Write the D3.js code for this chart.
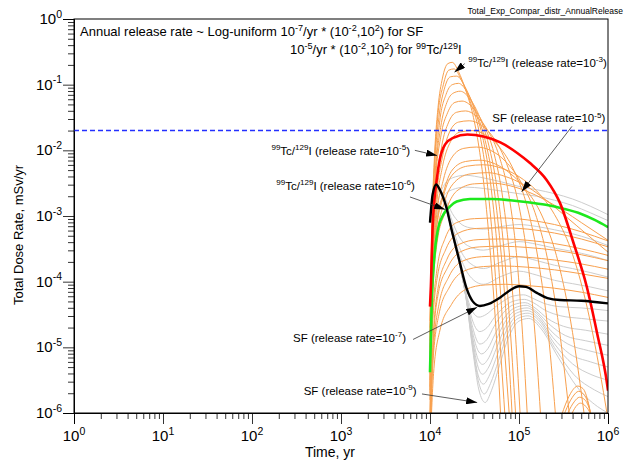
<!DOCTYPE html>
<html>
<head>
<meta charset="utf-8">
<script src="https://cdn.jsdelivr.net/npm/d3@7"></script>
<style>
body { margin: 0; background: #fff; }
text { font-family: Arial, "Liberation Sans", sans-serif; fill: #000; }
</style>
</head>
<body>
<svg id="chart" width="628" height="461"></svg>
<script>
// points are [log10(time, yr), log10(dose, mSv/yr)]

// highlighted realisations
var tcI_1e5 = [[4.0,-4.38],[4.01,-4.07],[4.03,-3.16],[4.08,-2.40],[4.11,-2.14],[4.17,-1.91],[4.26,-1.81],[4.42,-1.76],[4.6,-1.79],[4.79,-1.88],[4.98,-2.04],[5.12,-2.19],[5.31,-2.45],[5.46,-2.80],[5.61,-3.40],[5.76,-4.07],[5.88,-4.80],[5.99,-5.56],[6.0,-5.66]];
var sf_1e5 = [[4.0,-5.38],[4.02,-4.3],[4.05,-3.6],[4.09,-3.2],[4.15,-2.98],[4.22,-2.86],[4.3,-2.78],[4.45,-2.74],[4.7,-2.74],[4.9,-2.76],[5.1,-2.79],[5.3,-2.83],[5.5,-2.89],[5.7,-2.97],[5.85,-3.06],[6.0,-3.17]];
var sf_1e7 = [[4.0,-3.1],[4.03,-2.67],[4.07,-2.52],[4.11,-2.6],[4.18,-2.85],[4.25,-3.25],[4.33,-3.68],[4.41,-4.1],[4.48,-4.3],[4.56,-4.37],[4.66,-4.34],[4.78,-4.25],[4.9,-4.13],[5.0,-4.07],[5.08,-4.08],[5.2,-4.17],[5.32,-4.25],[5.46,-4.28],[5.7,-4.29],[6.0,-4.33]];

// SF realisations (grey)
var sfEarly = [[4.0,-3.1],[4.03,-2.67],[4.07,-2.52],[4.11,-2.6],[4.18,-2.86],[4.25,-3.27],[4.33,-3.72]];
var sfCurves = [
  [[4.0,-5.0],[4.03,-3.6],[4.08,-2.85],[4.15,-2.55],[4.25,-2.42],[4.4,-2.38],[4.6,-2.42],[4.8,-2.48],[5.0,-2.55],[5.2,-2.6],[5.4,-2.66],[5.6,-2.74],[5.8,-2.85],[6.0,-2.98]],
  [[4.0,-5.2],[4.03,-3.8],[4.08,-3.0],[4.15,-2.7],[4.25,-2.6],[4.4,-2.56],[4.6,-2.58],[4.8,-2.62],[5.0,-2.66],[5.2,-2.7],[5.4,-2.76],[5.6,-2.84],[5.8,-2.95],[6.0,-3.07]],
  [[4.0,-3.1],[4.03,-2.67],[4.07,-2.52],[4.11,-2.58],[4.18,-2.76],[4.25,-2.96],[4.33,-3.1],[4.45,-3.18],[4.6,-3.2],[4.8,-3.16],[5.0,-3.13],[5.2,-3.16],[5.4,-3.21],[5.6,-3.27],[5.8,-3.35],[6.0,-3.45]],
  [[4.0,-3.1],[4.03,-2.67],[4.07,-2.52],[4.11,-2.59],[4.18,-2.8],[4.25,-3.08],[4.33,-3.32],[4.45,-3.47],[4.6,-3.52],[4.8,-3.45],[5.0,-3.39],[5.2,-3.43],[5.4,-3.49],[5.6,-3.54],[5.8,-3.6],[6.0,-3.68]],
  [[4.0,-3.1],[4.03,-2.67],[4.07,-2.52],[4.11,-2.6],[4.18,-2.83],[4.25,-3.15],[4.33,-3.48],[4.45,-3.72],[4.6,-3.8],[4.8,-3.7],[5.0,-3.62],[5.2,-3.68],[5.4,-3.75],[5.6,-3.8],[5.8,-3.86],[6.0,-3.93]],
  [[4.0,-3.1],[4.03,-2.67],[4.07,-2.52],[4.11,-2.6],[4.18,-2.85],[4.25,-3.2],[4.33,-3.58],[4.45,-3.92],[4.6,-4.04],[4.8,-3.92],[5.0,-3.84],[5.2,-3.9],[5.4,-3.98],[5.6,-4.03],[5.8,-4.08],[6.0,-4.14]],
  sfEarly.concat([[4.41,-4.2],[4.48,-4.46],[4.55,-4.54],[4.63,-4.5],[4.72,-4.4],[4.82,-4.3],[4.93,-4.22],[5.05,-4.2],[5.15,-4.25],[5.28,-4.33],[5.45,-4.38],[5.7,-4.4],[6.0,-4.44]]),
  sfEarly.concat([[4.41,-4.22],[4.48,-4.6],[4.56,-4.76],[4.64,-4.7],[4.72,-4.55],[4.82,-4.4],[4.93,-4.3],[5.06,-4.27],[5.16,-4.32],[5.3,-4.44],[5.47,-4.52],[5.7,-4.56],[6.0,-4.6]]),
  sfEarly.concat([[4.41,-4.24],[4.48,-4.7],[4.56,-4.95],[4.64,-4.88],[4.72,-4.68],[4.82,-4.48],[4.94,-4.35],[5.07,-4.32],[5.18,-4.4],[5.32,-4.56],[5.5,-4.68],[5.75,-4.74],[6.0,-4.8]]),
  sfEarly.concat([[4.41,-4.25],[4.48,-4.78],[4.54,-5.05],[4.58,-5.1],[4.65,-5.02],[4.73,-4.8],[4.83,-4.56],[4.95,-4.4],[5.08,-4.36],[5.2,-4.46],[5.35,-4.66],[5.52,-4.82],[5.75,-4.9],[6.0,-4.97]]),
  sfEarly.concat([[4.41,-4.26],[4.48,-4.85],[4.54,-5.18],[4.59,-5.26],[4.66,-5.16],[4.74,-4.9],[4.84,-4.62],[4.96,-4.44],[5.09,-4.4],[5.21,-4.5],[5.36,-4.75],[5.55,-4.95],[5.78,-5.05],[6.0,-5.12]]),
  sfEarly.concat([[4.41,-4.27],[4.48,-4.9],[4.54,-5.3],[4.59,-5.41],[4.66,-5.3],[4.75,-5.0],[4.85,-4.68],[4.97,-4.48],[5.09,-4.44],[5.22,-4.55],[5.38,-4.85],[5.57,-5.1],[5.8,-5.22],[6.0,-5.3]]),
  sfEarly.concat([[4.41,-4.28],[4.48,-4.95],[4.54,-5.42],[4.6,-5.56],[4.67,-5.42],[4.76,-5.1],[4.86,-4.74],[4.98,-4.52],[5.1,-4.48],[5.23,-4.6],[5.4,-4.95],[5.6,-5.25],[5.82,-5.42],[6.0,-5.5]]),
  sfEarly.concat([[4.41,-4.29],[4.48,-5.0],[4.55,-5.55],[4.61,-5.71],[4.68,-5.55],[4.77,-5.2],[4.87,-4.8],[4.99,-4.56],[5.1,-4.52],[5.24,-4.66],[5.42,-5.05],[5.62,-5.42],[5.85,-5.65],[6.0,-5.75]]),
  sfEarly.concat([[4.41,-4.3],[4.48,-5.04],[4.55,-5.65],[4.62,-5.84],[4.69,-5.66],[4.78,-5.28],[4.88,-4.86],[5.0,-4.6],[5.11,-4.56],[5.25,-4.72],[5.44,-5.15],[5.65,-5.6],[5.88,-5.9],[6.0,-6.0]])
];

// 99Tc/129I realisations (orange)
var tcCurves = [
  [[4.0,-4.6],[4.02,-3.2],[4.05,-2.1],[4.09,-1.35],[4.14,-0.9],[4.2,-0.68],[4.25,-0.66],[4.32,-0.8],[4.4,-1.08],[4.48,-1.45],[4.55,-1.95],[4.62,-2.7],[4.68,-3.6],[4.74,-4.7],[4.8,-6.2]],
  [[4.0,-4.7],[4.02,-3.3],[4.05,-2.2],[4.09,-1.45],[4.15,-1.0],[4.21,-0.78],[4.27,-0.76],[4.35,-0.92],[4.45,-1.25],[4.55,-1.7],[4.63,-2.35],[4.7,-3.3],[4.77,-4.6],[4.85,-6.2]],
  [[4.0,-4.8],[4.02,-3.4],[4.05,-2.3],[4.1,-1.5],[4.16,-1.07],[4.23,-0.88],[4.3,-0.87],[4.4,-1.05],[4.5,-1.38],[4.6,-1.85],[4.68,-2.5],[4.75,-3.4],[4.82,-4.7],[4.9,-6.2]],
  [[4.0,-4.9],[4.02,-3.5],[4.06,-2.3],[4.11,-1.55],[4.18,-1.15],[4.25,-1.0],[4.32,-0.98],[4.42,-1.12],[4.52,-1.42],[4.62,-1.85],[4.7,-2.4],[4.78,-3.3],[4.86,-4.6],[4.93,-6.2]],
  [[4.0,-5.0],[4.02,-3.6],[4.06,-2.4],[4.12,-1.65],[4.19,-1.27],[4.26,-1.13],[4.34,-1.1],[4.45,-1.22],[4.56,-1.5],[4.66,-1.92],[4.75,-2.55],[4.83,-3.5],[4.9,-4.7],[4.97,-6.2]],
  [[4.0,-5.1],[4.02,-3.7],[4.06,-2.5],[4.12,-1.8],[4.2,-1.42],[4.28,-1.27],[4.36,-1.25],[4.48,-1.35],[4.6,-1.6],[4.72,-2.05],[4.82,-2.75],[4.9,-3.7],[4.96,-4.8],[5.02,-6.2]],
  [[4.0,-5.2],[4.02,-3.8],[4.07,-2.6],[4.13,-1.95],[4.21,-1.57],[4.3,-1.42],[4.4,-1.4],[4.52,-1.48],[4.65,-1.7],[4.78,-2.1],[4.9,-2.8],[4.98,-3.7],[5.04,-4.8],[5.1,-6.2]],
  [[4.0,-5.3],[4.02,-3.9],[4.07,-2.75],[4.14,-2.1],[4.22,-1.72],[4.32,-1.57],[4.44,-1.55],[4.58,-1.62],[4.72,-1.82],[4.86,-2.2],[5.0,-2.85],[5.1,-3.7],[5.18,-4.8],[5.25,-6.2]],
  [[4.0,-5.4],[4.02,-4.0],[4.07,-2.9],[4.14,-2.25],[4.23,-1.87],[4.34,-1.72],[4.48,-1.7],[4.62,-1.76],[4.78,-1.95],[4.94,-2.3],[5.1,-2.9],[5.22,-3.7],[5.33,-4.8],[5.42,-6.2]],
  [[4.0,-5.5],[4.02,-4.1],[4.07,-3.05],[4.15,-2.45],[4.25,-2.1],[4.38,-1.97],[4.52,-1.95],[4.68,-2.0],[4.85,-2.17],[5.02,-2.48],[5.18,-2.95],[5.32,-3.65],[5.45,-4.7],[5.58,-6.2]],
  [[4.0,-5.6],[4.02,-4.3],[4.07,-3.2],[4.15,-2.65],[4.25,-2.3],[4.4,-2.17],[4.55,-2.15],[4.72,-2.2],[4.9,-2.35],[5.08,-2.6],[5.26,-3.0],[5.42,-3.6],[5.58,-4.6],[5.75,-6.2]],
  [[4.0,-5.65],[4.02,-4.35],[4.07,-3.25],[4.15,-2.7],[4.26,-2.36],[4.42,-2.24],[4.6,-2.22],[4.8,-2.27],[5.0,-2.4],[5.2,-2.62],[5.4,-2.98],[5.58,-3.5],[5.75,-4.3],[5.9,-5.3],[6.0,-6.1]],
  [[4.0,-5.7],[4.02,-4.4],[4.08,-3.3],[4.16,-2.8],[4.28,-2.48],[4.45,-2.36],[4.65,-2.34],[4.85,-2.4],[5.05,-2.52],[5.25,-2.7],[5.45,-2.92],[5.65,-3.15],[5.85,-3.38],[6.0,-3.55]],
  [[4.0,-5.8],[4.02,-4.5],[4.08,-3.4],[4.17,-2.95],[4.3,-2.62],[4.5,-2.51],[4.7,-2.5],[4.9,-2.54],[5.1,-2.63],[5.3,-2.76],[5.5,-2.92],[5.7,-3.1],[5.9,-3.28],[6.0,-3.37]],
  [[4.0,-6.0],[4.02,-4.8],[4.08,-3.8],[4.17,-3.34],[4.3,-3.1],[4.5,-3.04],[4.8,-3.03],[5.1,-3.06],[5.4,-3.13],[5.7,-3.24],[6.0,-3.38]],
  [[4.0,-6.1],[4.02,-4.9],[4.08,-3.95],[4.18,-3.5],[4.32,-3.26],[4.52,-3.19],[4.8,-3.18],[5.1,-3.2],[5.4,-3.26],[5.7,-3.35],[6.0,-3.47]],
  [[4.0,-6.2],[4.03,-5.0],[4.09,-4.1],[4.19,-3.66],[4.33,-3.43],[4.54,-3.36],[4.8,-3.35],[5.1,-3.37],[5.4,-3.42],[5.7,-3.5],[6.0,-3.6]],
  [[4.0,-6.3],[4.03,-5.1],[4.09,-4.2],[4.2,-3.78],[4.35,-3.54],[4.56,-3.47],[4.8,-3.46],[5.1,-3.48],[5.4,-3.52],[5.7,-3.59],[6.0,-3.68]],
  [[4.0,-6.4],[4.03,-5.2],[4.1,-4.35],[4.21,-3.93],[4.36,-3.69],[4.58,-3.62],[4.8,-3.61],[5.1,-3.63],[5.4,-3.67],[5.7,-3.73],[6.0,-3.81]],
  [[4.0,-6.5],[4.03,-5.3],[4.1,-4.5],[4.22,-4.08],[4.38,-3.84],[4.6,-3.77],[4.8,-3.76],[5.1,-3.78],[5.4,-3.82],[5.7,-3.88],[6.0,-3.95]],
  [[4.0,-6.6],[4.04,-5.4],[4.11,-4.75],[4.24,-4.35],[4.4,-4.12],[4.62,-4.05],[4.85,-4.04],[5.1,-4.06],[5.4,-4.1],[5.7,-4.16],[6.0,-4.24]],
  // small late humps near the bottom
  [[5.42,-6.3],[5.5,-5.95],[5.58,-5.7],[5.66,-5.59],[5.72,-5.63],[5.78,-5.85],[5.84,-6.3]],
  [[5.44,-6.3],[5.52,-5.98],[5.6,-5.76],[5.67,-5.67],[5.73,-5.72],[5.79,-5.92],[5.84,-6.3]],
  [[5.47,-6.3],[5.55,-6.0],[5.62,-5.83],[5.68,-5.76],[5.74,-5.8],[5.8,-5.98],[5.85,-6.3]],
  [[5.5,-6.3],[5.58,-6.05],[5.64,-5.9],[5.69,-5.85],[5.75,-5.9],[5.81,-6.05],[5.85,-6.3]]
];

var doseLimit = 0.02;
var xExps = [0, 1, 2, 3, 4, 5, 6];
var yExps = [-6, -5, -4, -3, -2, -1, 0];

// annotation texts, baseline pos / arrow tail / arrow tip in [log t, log D]
var notes = [
  { txt: "^{99}Tc/^{129}I (release rate=10^{-3})", at: [4.43, -0.73], anchor: "start", from: [4.39, -0.68], to: [4.275, -0.81] },
  { txt: "SF (release rate=10^{-5})", at: [4.70, -1.575], anchor: "start", from: [5.595, -1.635], to: [5.03, -2.63] },
  { txt: "^{99}Tc/^{129}I (release rate=10^{-5})", at: [3.775, -2.07], anchor: "end", from: [3.83, -2.0], to: [4.08, -2.08] },
  { txt: "^{99}Tc/^{129}I (release rate=10^{-6})", at: [3.83, -2.6], anchor: "end", from: [3.775, -2.71], to: [4.17, -2.90] },
  { txt: "SF (release rate=10^{-7})", at: [3.73, -4.92], anchor: "end", from: [3.81, -4.88], to: [4.53, -4.39] },
  { txt: "SF (release rate=10^{-9})", at: [3.85, -5.73], anchor: "end", from: [3.91, -5.71], to: [4.53, -5.84] }
];

var L = 74, R = 608, T = 19, B = 413;
var svg = d3.select("#chart");

var x = d3.scaleLog().domain([1, 1e6]).range([L, R]);
var y = d3.scaleLog().domain([1e-6, 1]).range([B, T]);
var px = function(p) { return x(Math.pow(10, p[0])); };
var py = function(p) { return y(Math.pow(10, p[1])); };

// text with ^{..} superscripts
function rich(sel, str, fs) {
  var parts = str.split(/(\^\{[^}]*\})/).filter(function(s) { return s.length; });
  var up = false;
  parts.forEach(function(p) {
    if (p.indexOf("^{") === 0) {
      sel.append("tspan").attr("font-size", fs * 0.7).attr("dy", up ? 0 : -fs * 0.42).text(p.slice(2, -1));
      up = true;
    } else {
      sel.append("tspan").attr("font-size", fs).attr("dy", up ? fs * 0.42 : 0).text(p);
      up = false;
    }
  });
}

svg.append("defs").append("clipPath").attr("id", "clip")
  .append("rect").attr("x", L).attr("y", T).attr("width", R - L).attr("height", B - T);
var mk = svg.select("defs").append("marker").attr("id", "arr")
  .attr("markerUnits", "userSpaceOnUse").attr("markerWidth", 11).attr("markerHeight", 7)
  .attr("refX", 11).attr("refY", 3.5).attr("orient", "auto");
mk.append("path").attr("d", "M0,0 L11,3.5 L0,7 Z").attr("fill", "#000");

// axes
var majX = xExps.map(function(e) { return Math.pow(10, e); });
var majY = yExps.map(function(e) { return Math.pow(10, e); });
var isMajor = function(v) { return Math.abs(Math.log10(v) - Math.round(Math.log10(v))) < 1e-6; };

var gx = svg.append("g").attr("transform", "translate(0," + B + ")");
gx.append("g").call(d3.axisBottom(x).tickValues(x.ticks().filter(function(v) { return !isMajor(v); })).tickSize(6).tickFormat(""));
gx.append("g").call(d3.axisBottom(x).tickValues(majX).tickSize(11).tickFormat(""));
var gy = svg.append("g").attr("transform", "translate(" + L + ",0)");
gy.append("g").call(d3.axisLeft(y).tickValues(y.ticks().filter(function(v) { return !isMajor(v); })).tickSize(6).tickFormat(""));
gy.append("g").call(d3.axisLeft(y).tickValues(majY).tickSize(11).tickFormat(""));
svg.selectAll(".domain").attr("stroke", "#000");
svg.selectAll(".tick line").attr("stroke", "#000").attr("stroke-width", 0.8);

xExps.forEach(function(e) {
  var t = svg.append("text").attr("x", x(Math.pow(10, e))).attr("y", 441).attr("text-anchor", "middle");
  rich(t, "10^{" + e + "}", 15);
});
yExps.forEach(function(e) {
  var t = svg.append("text").attr("x", 62).attr("y", y(Math.pow(10, e)) + 5).attr("text-anchor", "end");
  rich(t, "10^{" + e + "}", 15);
});

svg.append("text").attr("x", 330).attr("y", 457).attr("text-anchor", "middle").attr("font-size", 14).text("Time, yr");
svg.append("text").attr("transform", "translate(23,235) rotate(-90)").attr("text-anchor", "middle")
  .attr("font-size", 13).text("Total Dose Rate, mSv/yr");
svg.append("text").attr("x", 623).attr("y", 14).attr("text-anchor", "end").attr("font-size", 8.5)
  .text("Total_Exp_Compar_distr_AnnualRelease");

// curves
var line = d3.line().x(px).y(py).curve(d3.curveMonotoneX);
var plot = svg.append("g").attr("clip-path", "url(#clip)");

plot.selectAll(".sf").data(sfCurves).enter().append("path")
  .attr("d", line).attr("fill", "none").attr("stroke", "#cdcdcd").attr("stroke-width", 1);
plot.selectAll(".tc").data(tcCurves).enter().append("path")
  .attr("d", line).attr("fill", "none").attr("stroke", "#f8a04e").attr("stroke-width", 1);

plot.append("line").attr("x1", L).attr("x2", R).attr("y1", y(doseLimit)).attr("y2", y(doseLimit))
  .attr("stroke", "#2430ff").attr("stroke-width", 1.6).attr("stroke-dasharray", "5,3");

plot.append("path").attr("d", line(sf_1e5)).attr("fill", "none").attr("stroke", "#1de81d").attr("stroke-width", 2.6);
plot.append("path").attr("d", line(tcI_1e5)).attr("fill", "none").attr("stroke", "#ff0000").attr("stroke-width", 2.6);
plot.append("path").attr("d", line(sf_1e7)).attr("fill", "none").attr("stroke", "#000").attr("stroke-width", 2.4);

// frame
svg.append("rect").attr("x", L).attr("y", T).attr("width", R - L).attr("height", B - T)
  .attr("fill", "none").attr("stroke", "#000").attr("stroke-width", 1);

// annotations
var t1 = svg.append("text").attr("x", 80).attr("y", 36).attr("font-size", 13);
rich(t1, "Annual release rate ~ Log-uniform 10^{-7}/yr * (10^{-2},10^{2}) for SF", 13);
var t2 = svg.append("text").attr("x", 290).attr("y", 54).attr("font-size", 13);
rich(t2, "10^{-5}/yr * (10^{-2},10^{2}) for ^{99}Tc/^{129}I", 13);

notes.forEach(function(n) {
  svg.append("line").attr("x1", px(n.from)).attr("y1", py(n.from)).attr("x2", px(n.to)).attr("y2", py(n.to))
    .attr("stroke", "#333").attr("stroke-width", 0.8).attr("marker-end", "url(#arr)");
  var t = svg.append("text").attr("x", px(n.at)).attr("y", py(n.at)).attr("text-anchor", n.anchor);
  rich(t, n.txt, 11.5);
});
</script>
</body>
</html>
